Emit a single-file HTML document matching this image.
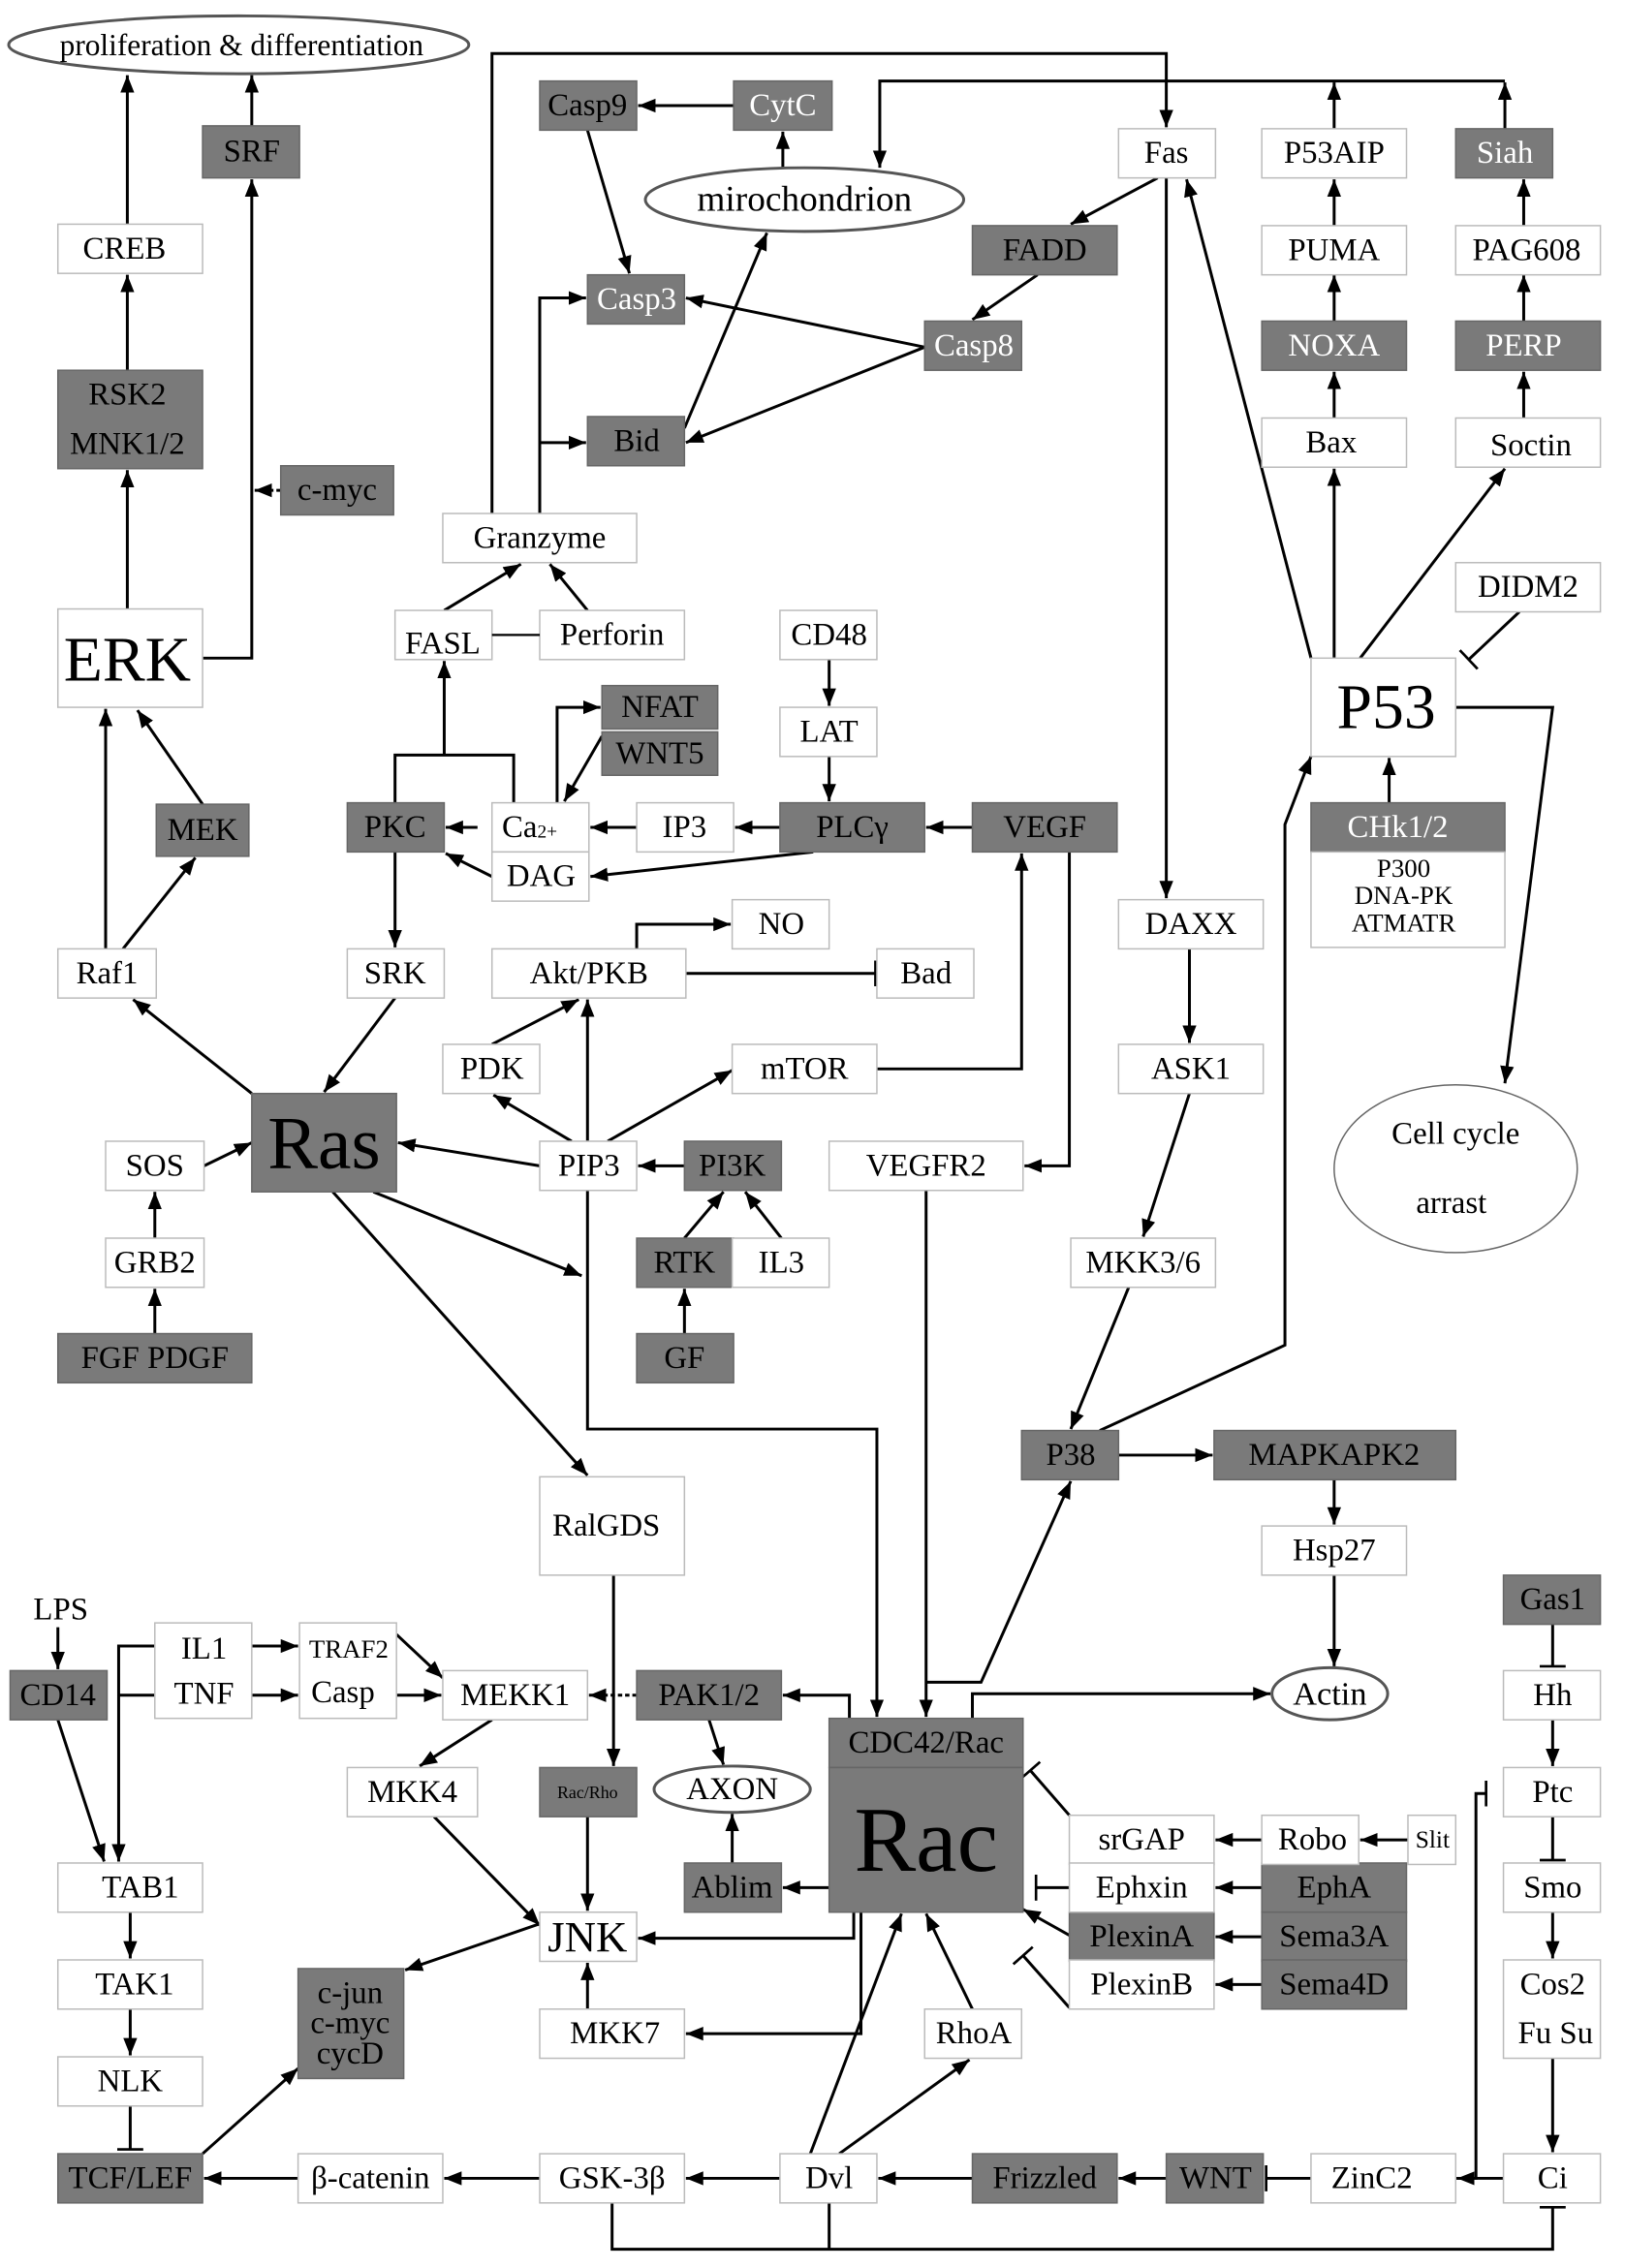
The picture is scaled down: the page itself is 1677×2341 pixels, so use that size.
<!DOCTYPE html>
<html><head><meta charset="utf-8"><style>
html,body{margin:0;padding:0;background:#fff}
svg{display:block}
text{font-family:"Liberation Serif",serif;fill:#000;text-anchor:middle;dominant-baseline:central}
.n{fill:#fff;stroke:#bbb;stroke-width:1}
.d{fill:#7a7a7a;stroke:#666;stroke-width:1}
.l{fill:none;stroke:#000;stroke-width:2}
.wt{fill:#fff}
</style></head><body>
<svg width="1677" height="2341" viewBox="0 0 1123 1568" preserveAspectRatio="none" xmlns="http://www.w3.org/2000/svg">
<defs>
<marker id="a" viewBox="0 0 10 10" refX="10" refY="5" markerWidth="6" markerHeight="6" orient="auto-start-reverse" markerUnits="strokeWidth"><path d="M0,1 L10,5 L0,9 z" fill="#000"/></marker>
<marker id="t" viewBox="0 0 2 20" refX="1" refY="10" markerWidth="1" markerHeight="9" orient="auto" markerUnits="strokeWidth"><rect x="0" y="0" width="2" height="20" fill="#000"/></marker>
</defs>

<g class="l" marker-end="url(#a)">
<path d="M88,155V52"/><path d="M174,87V52"/><path d="M88,256V190"/><path d="M88,421V325"/>
<path d="M140,455H174V124"/><path d="M194,339H176" stroke-dasharray="3,2"/>
<path d="M140,556L95,491"/><path d="M73,656V490"/><path d="M85,656L135,593"/>
<path d="M174,756L92,691"/><path d="M141,806L174,790"/><path d="M107,856V824"/><path d="M107,922V891"/>
<path d="M273,690L224,755"/><path d="M373,806L275,790"/><path d="M230,824L406,1020"/><path d="M258,824L402,882"/>
<path d="M406,823V988H606V1187"/><path d="M395,789L341,757"/><path d="M406,789V691"/><path d="M340,722L400,691"/>
<path d="M420,789L506,740"/><path d="M473,806L441,806"/><path d="M473,856L500,824"/><path d="M540,856L515,824"/>
<path d="M473,922V891"/><path d="M739,589V806H708"/><path d="M606,739H706V590"/>
<path d="M640,823V1187"/><path d="M440,656V639H505"/>
<path d="M539,572H508"/><path d="M440,572H408"/><path d="M330,572H308"/><path d="M340,606L308,590"/>
<path d="M562,589L408,606"/><path d="M672,572H640"/><path d="M573,523V554"/><path d="M573,456V488"/>
<path d="M385,555V489H415"/><path d="M416,509L390,554"/>
<path d="M307,522V457"/><path d="M273,589V655"/>
<path d="M307,422L360,390"/><path d="M406,422L380,390"/>
<path d="M340,355V37H806V88"/><path d="M373,355V206H405"/><path d="M373,306H405"/>
<path d="M406,90L435,189"/><path d="M507,73H441"/><path d="M541,116V91"/><path d="M473,296L530,161"/>
<path d="M639,240L474,206"/><path d="M639,240L474,306"/><path d="M717,190L672,221"/><path d="M800,123L740,155"/>
<path d="M806,123V621"/><path d="M822,656V721"/><path d="M822,756L790,855"/><path d="M780,890L740,988"/>
<path d="M773,1006H838"/><path d="M922,1023V1054"/><path d="M922,1089V1152"/><path d="M672,1188V1171H878"/>
<path d="M760,989L888,930V570L906,523"/>
<path d="M640,1163H678L740,1024"/>
<path d="M906,455L820,124"/><path d="M922,455V324"/><path d="M940,455L1040,324"/>
<path d="M1006,489H1073L1040,749"/><path d="M960,555V524"/>
<path d="M922,289V257"/><path d="M922,222V190"/><path d="M922,156V124"/><path d="M922,89V57"/>
<path d="M1053,289V257"/><path d="M1053,222V190"/><path d="M1053,156V124"/><path d="M1040,89V57"/>
<path d="M1040,56H608V116"/>
<path d="M424,1089V1221"/><path d="M406,1256V1321"/><path d="M406,1389V1357"/><path d="M300,1256L373,1331"/>
<path d="M340,1189L290,1221"/><path d="M440,1172H407" stroke-dasharray="3,2"/><path d="M587,1188V1172H541"/>
<path d="M490,1189L500,1220"/><path d="M506,1288V1254"/><path d="M573,1305H541"/>
<path d="M590,1322V1340H441"/><path d="M595,1322V1406H474"/>
<path d="M373,1330L280,1362"/>
<path d="M274,1130L306,1160"/><path d="M274,1172H305"/><path d="M174,1138H206"/><path d="M174,1172H206"/>
<path d="M40,1125V1154"/><path d="M40,1189L72,1287"/><path d="M107,1138H82V1172H107M82,1172V1287"/>
<path d="M90,1322V1354"/><path d="M90,1389V1421"/>
<path d="M140,1489L206,1430"/><path d="M206,1506H141"/><path d="M373,1506H307"/><path d="M539,1506H474"/>
<path d="M672,1506H607"/><path d="M806,1506H773"/><path d="M1039,1506H1007"/>
<path d="M560,1489L623,1323"/><path d="M580,1489L670,1424"/><path d="M672,1389L640,1323"/>
<path d="M1073,1189V1221"/><path d="M1073,1322V1354"/><path d="M1073,1423V1488"/>
<path d="M872,1272H840"/><path d="M973,1272H940"/><path d="M872,1305H840"/><path d="M872,1339H840"/><path d="M872,1372H840"/>
<path d="M739,1338L707,1320"/>
</g>
<g class="l" marker-end="url(#t)">
<path d="M473,673H605"/><path d="M1050,423L1015,456"/><path d="M90,1456V1486"/>
<path d="M1073,1123V1152"/><path d="M1073,1256V1286"/><path d="M906,1506H875"/>
<path d="M739,1255L712,1224"/><path d="M739,1305H716"/><path d="M739,1388L707,1352"/>
<path d="M1006,1506H1020V1240H1027"/>
<path d="M423,1523V1555H1073V1526"/>
</g>
<path class="l" d="M573,1523V1555"/>
<path class="l" d="M273,555V522H355V555"/>

<ellipse cx="165" cy="31" rx="159" ry="20" fill="#fff" stroke="#555" stroke-width="2"/>
<text x="167" y="31" font-size="21">proliferation &amp; differentiation</text>
<ellipse cx="556" cy="138" rx="110" ry="22" fill="#fff" stroke="#555" stroke-width="2"/>
<text x="556" y="138" font-size="25">mirochondrion</text>
<ellipse cx="919" cy="1171" rx="40" ry="18" fill="#fff" stroke="#555" stroke-width="2"/>
<text x="919" y="1171" font-size="23">Actin</text>
<ellipse cx="506" cy="1237" rx="54" ry="16" fill="#fff" stroke="#555" stroke-width="2"/>
<text x="506" y="1237" font-size="22">AXON</text>
<ellipse cx="1006" cy="808" rx="84" ry="58" fill="#fff" stroke="#666" stroke-width="1"/>
<text x="1006" y="784" font-size="22">Cell cycle</text>
<text x="1003" y="832" font-size="22">arrast</text>

<g font-size="22">
<rect class="d" x="140" y="87" width="67" height="36"/><text x="174" y="105">SRF</text>
<rect class="d" x="40" y="256" width="100" height="68"/><text x="88" y="273">RSK2</text><text x="88" y="307">MNK1/2</text>
<rect class="d" x="194" y="322" width="78" height="34"/><text x="233" y="339">c-myc</text>
<rect class="d" x="108" y="556" width="64" height="36"/><text x="140" y="574">MEK</text>
<rect class="d" x="174" y="756" width="100" height="68"/><text x="224" y="790" font-size="52">Ras</text>
<rect class="d" x="40" y="922" width="134" height="34"/><text x="107" y="939">FGF  PDGF</text>
<rect class="d" x="373" y="56" width="67" height="34"/><text x="406" y="73">Casp9</text>
<rect class="d" x="507" y="56" width="68" height="34"/><text x="541" y="73" class="wt">CytC</text>
<rect class="d" x="1006" y="89" width="67" height="34"/><text x="1040" y="106" class="wt">Siah</text>
<rect class="d" x="672" y="156" width="100" height="34"/><text x="722" y="173">FADD</text>
<rect class="d" x="406" y="190" width="67" height="34"/><text x="440" y="207" class="wt">Casp3</text>
<rect class="d" x="639" y="222" width="67" height="34"/><text x="673" y="239" class="wt">Casp8</text>
<rect class="d" x="872" y="222" width="100" height="34"/><text x="922" y="239" class="wt">NOXA</text>
<rect class="d" x="1006" y="222" width="100" height="34"/><text x="1053" y="239" class="wt">PERP</text>
<rect class="d" x="406" y="288" width="67" height="34"/><text x="440" y="305">Bid</text>
<rect class="d" x="416" y="474" width="80" height="30"/><text x="456" y="489">NFAT</text>
<rect class="d" x="416" y="506" width="80" height="30"/><text x="456" y="521">WNT5</text>
<rect class="d" x="240" y="555" width="67" height="34"/><text x="273" y="572">PKC</text>
<rect class="d" x="539" y="555" width="100" height="34"/><text x="589" y="572">PLCγ</text>
<rect class="d" x="672" y="555" width="100" height="34"/><text x="722" y="572">VEGF</text>
<rect class="d" x="906" y="555" width="134" height="34"/><text x="966" y="572" class="wt">CHk1/2</text>
<rect class="d" x="473" y="789" width="67" height="34"/><text x="506" y="806">PI3K</text>
<rect class="d" x="440" y="856" width="67" height="34"/><text x="473" y="873">RTK</text>
<rect class="d" x="440" y="922" width="67" height="34"/><text x="473" y="939">GF</text>
<rect class="d" x="706" y="989" width="67" height="34"/><text x="740" y="1006">P38</text>
<rect class="d" x="839" y="989" width="167" height="34"/><text x="922" y="1006">MAPKAPK2</text>
<rect class="d" x="1039" y="1089" width="67" height="34"/><text x="1073" y="1106">Gas1</text>
<rect class="d" x="7" y="1155" width="67" height="34"/><text x="40" y="1172">CD14</text>
<rect class="d" x="440" y="1155" width="100" height="34"/><text x="490" y="1172">PAK1/2</text>
<rect class="d" x="573" y="1188" width="134" height="34"/><text x="640" y="1205">CDC42/Rac</text>
<rect class="d" x="573" y="1222" width="134" height="100"/><text x="640" y="1272" font-size="64">Rac</text>
<rect class="d" x="373" y="1222" width="67" height="34"/><text x="406" y="1239" font-size="12">Rac/Rho</text>
<rect class="d" x="473" y="1288" width="67" height="34"/><text x="506" y="1305">Ablim</text>
<rect class="d" x="872" y="1288" width="100" height="34"/><text x="922" y="1305">EphA</text>
<rect class="d" x="739" y="1322" width="100" height="34"/><text x="789" y="1339">PlexinA</text>
<rect class="d" x="872" y="1322" width="100" height="34"/><text x="922" y="1339">Sema3A</text>
<rect class="d" x="872" y="1355" width="100" height="34"/><text x="922" y="1372">Sema4D</text>
<rect class="d" x="206" y="1361" width="73" height="76"/><text x="242" y="1378">c-jun</text><text x="242" y="1399">c-myc</text><text x="242" y="1420">cycD</text>
<rect class="d" x="40" y="1489" width="100" height="34"/><text x="90" y="1506">TCF/LEF</text>
<rect class="d" x="672" y="1489" width="100" height="34"/><text x="722" y="1506">Frizzled</text>
<rect class="d" x="806" y="1489" width="67" height="34"/><text x="840" y="1506">WNT</text>

<rect class="n" x="40" y="155" width="100" height="34"/><text x="86" y="172">CREB</text>
<rect class="n" x="40" y="421" width="100" height="68"/><text x="88" y="456" font-size="44">ERK</text>
<rect class="n" x="40" y="656" width="68" height="34"/><text x="74" y="673">Raf1</text>
<rect class="n" x="73" y="789" width="68" height="34"/><text x="107" y="806">SOS</text>
<rect class="n" x="73" y="856" width="68" height="34"/><text x="107" y="873">GRB2</text>
<rect class="n" x="773" y="89" width="67" height="34"/><text x="806" y="106">Fas</text>
<rect class="n" x="872" y="89" width="100" height="34"/><text x="922" y="106">P53AIP</text>
<rect class="n" x="872" y="156" width="100" height="34"/><text x="922" y="173">PUMA</text>
<rect class="n" x="1006" y="156" width="100" height="34"/><text x="1055" y="173">PAG608</text>
<rect class="n" x="872" y="289" width="100" height="34"/><text x="920" y="306">Bax</text>
<rect class="n" x="1006" y="289" width="100" height="34"/><text x="1058" y="308">Soctin</text>
<rect class="n" x="306" y="355" width="134" height="34"/><text x="373" y="372">Granzyme</text>
<rect class="n" x="1006" y="389" width="100" height="34"/><text x="1056" y="406">DIDM2</text>
<rect class="n" x="273" y="422" width="67" height="34"/><text x="306" y="445">FASL</text>
<rect class="n" x="373" y="422" width="100" height="34"/><text x="423" y="439">Perforin</text>
<path class="l" d="M340,439H373" style="stroke-width:1.5"/>
<rect class="n" x="539" y="422" width="67" height="34"/><text x="573" y="439">CD48</text>
<rect class="n" x="906" y="455" width="100" height="68"/><text x="958" y="489" font-size="44">P53</text>
<rect class="n" x="539" y="489" width="67" height="34"/><text x="573" y="506">LAT</text>
<rect class="n" x="340" y="555" width="67" height="34"/><text x="366" y="572">Ca<tspan font-size="13" dy="3">2+</tspan></text>
<rect class="n" x="440" y="555" width="67" height="34"/><text x="473" y="572">IP3</text>
<rect class="n" x="340" y="589" width="67" height="34"/><text x="374" y="606">DAG</text>
<rect class="n" x="906" y="589" width="134" height="66"/>
<text x="970" y="600" font-size="18">P300</text><text x="970" y="619" font-size="18">DNA-PK</text><text x="970" y="638" font-size="18">ATMATR</text>
<rect class="n" x="506" y="622" width="67" height="34"/><text x="540" y="639">NO</text>
<rect class="n" x="773" y="622" width="100" height="34"/><text x="823" y="639">DAXX</text>
<rect class="n" x="240" y="656" width="67" height="34"/><text x="273" y="673">SRK</text>
<rect class="n" x="340" y="656" width="134" height="34"/><text x="407" y="673">Akt/PKB</text>
<rect class="n" x="606" y="656" width="67" height="34"/><text x="640" y="673">Bad</text>
<rect class="n" x="306" y="722" width="67" height="34"/><text x="340" y="739">PDK</text>
<rect class="n" x="506" y="722" width="100" height="34"/><text x="556" y="739">mTOR</text>
<rect class="n" x="773" y="722" width="100" height="34"/><text x="823" y="739">ASK1</text>
<rect class="n" x="373" y="789" width="67" height="34"/><text x="407" y="806">PIP3</text>
<rect class="n" x="573" y="789" width="134" height="34"/><text x="640" y="806">VEGFR2</text>
<rect class="n" x="506" y="856" width="67" height="34"/><text x="540" y="873">IL3</text>
<rect class="n" x="740" y="856" width="100" height="34"/><text x="790" y="873">MKK3/6</text>
<rect class="n" x="373" y="1021" width="100" height="68"/><text x="419" y="1055">RalGDS</text>
<rect class="n" x="872" y="1055" width="100" height="34"/><text x="922" y="1072">Hsp27</text>
<text x="42" y="1113">LPS</text>
<rect class="n" x="107" y="1122" width="67" height="66"/><text x="141" y="1140">IL1</text><text x="141" y="1171">TNF</text>
<rect class="n" x="207" y="1122" width="67" height="66"/><text x="241" y="1140" font-size="18">TRAF2</text><text x="237" y="1170">Casp</text>
<rect class="n" x="306" y="1155" width="100" height="34"/><text x="356" y="1172">MEKK1</text>
<rect class="n" x="1039" y="1155" width="67" height="34"/><text x="1073" y="1172">Hh</text>
<rect class="n" x="240" y="1222" width="90" height="34"/><text x="285" y="1239">MKK4</text>
<rect class="n" x="1039" y="1222" width="67" height="34"/><text x="1073" y="1239">Ptc</text>
<rect class="n" x="739" y="1255" width="100" height="34"/><text x="789" y="1272">srGAP</text>
<rect class="n" x="872" y="1255" width="67" height="34"/><text x="907" y="1272">Robo</text>
<rect class="n" x="973" y="1255" width="33" height="34"/><text x="990" y="1272" font-size="17">Slit</text>
<rect class="n" x="40" y="1288" width="100" height="34"/><text x="97" y="1305">TAB1</text>
<rect class="n" x="739" y="1288" width="100" height="34"/><text x="789" y="1305">Ephxin</text>
<rect class="n" x="1039" y="1288" width="67" height="34"/><text x="1073" y="1305">Smo</text>
<rect class="n" x="373" y="1322" width="67" height="34"/><text x="406" y="1339" font-size="30">JNK</text>
<rect class="n" x="40" y="1355" width="100" height="34"/><text x="93" y="1372">TAK1</text>
<rect class="n" x="739" y="1355" width="100" height="34"/><text x="789" y="1372">PlexinB</text>
<rect class="n" x="1039" y="1355" width="67" height="68"/><text x="1073" y="1372">Cos2</text><text x="1075" y="1406">Fu Su</text>
<rect class="n" x="373" y="1389" width="100" height="34"/><text x="425" y="1406">MKK7</text>
<rect class="n" x="639" y="1389" width="67" height="34"/><text x="673" y="1406">RhoA</text>
<rect class="n" x="40" y="1422" width="100" height="34"/><text x="90" y="1439">NLK</text>
<rect class="n" x="206" y="1489" width="100" height="34"/><text x="256" y="1506">β-catenin</text>
<rect class="n" x="373" y="1489" width="100" height="34"/><text x="423" y="1506">GSK-3β</text>
<rect class="n" x="539" y="1489" width="67" height="34"/><text x="573" y="1506">Dvl</text>
<rect class="n" x="906" y="1489" width="100" height="34"/><text x="948" y="1506">ZinC2</text>
<rect class="n" x="1039" y="1489" width="67" height="34"/><text x="1073" y="1506">Ci</text>
</g>
</svg>
</body></html>
